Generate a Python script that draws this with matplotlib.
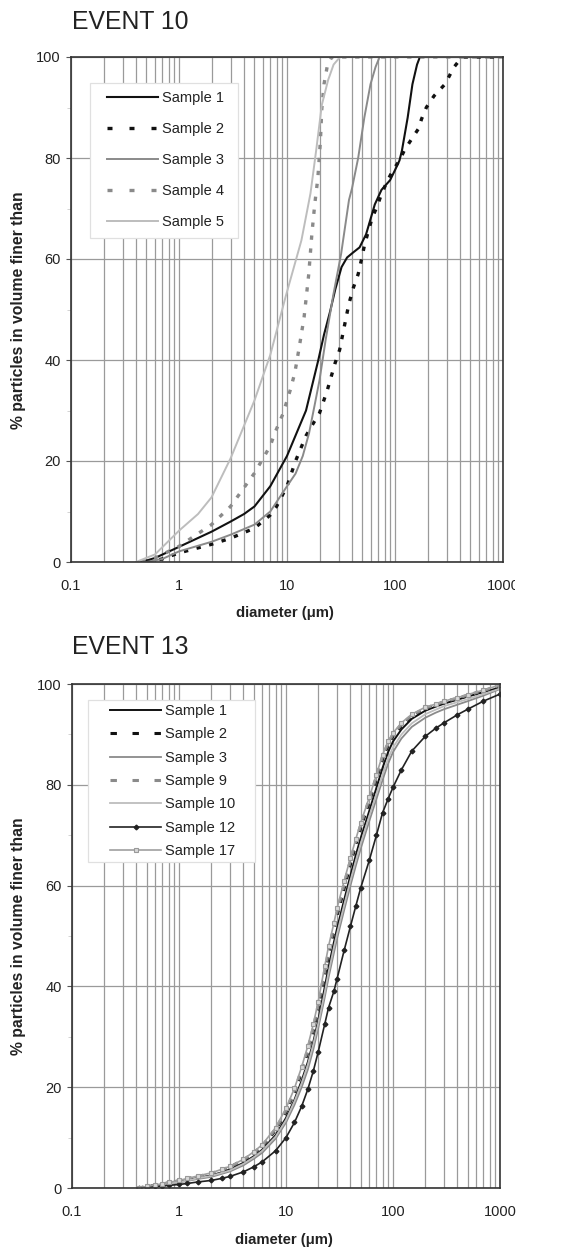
import matplotlib
matplotlib.use("Agg")
import matplotlib.pyplot as plt
from matplotlib.ticker import FixedLocator, NullFormatter, LogLocator
from matplotlib.patches import Rectangle
from matplotlib.lines import Line2D
from matplotlib.transforms import Bbox, TransformedBbox

plt.rcParams['font.family'] = ['Liberation Sans', 'DejaVu Sans']

# ---------------- EVENT 10 data (diameter um, % finer) ----------------
e10_s1_d = [0.45, 0.6, 1, 2, 3, 4, 5, 7, 10, 15, 19.5, 22, 25, 28, 32, 36, 41, 47, 54, 65, 75, 90, 100, 110, 116, 131, 145, 160, 170, 1000]
e10_s1_p = [0, 0.8, 3, 6, 8, 9.5, 11, 15, 21, 30, 40, 45, 49.5, 54, 58.4, 60.3, 61.3, 62.3, 64.9, 70.8, 73.7, 75.6, 77.6, 79.5, 81.5, 88, 94.6, 98.5, 100, 100]

e10_s2_d = [0.5, 0.7, 1, 2, 3, 5, 7, 8, 10, 12, 15, 17, 20, 23.6, 27.8, 30.7, 33.9, 37.4, 41.3, 45.6, 48.7, 52, 55.6, 61.5, 67.7, 74.8, 85, 96, 110, 122, 140, 165, 176, 195, 230, 290, 352, 400, 430, 1000]
e10_s2_p = [0, 0.6, 1.8, 3.5, 4.7, 6.7, 9.3, 11, 15, 20, 25, 27, 29.5, 34, 39.3, 42, 46.6, 51.1, 54.4, 57, 59.7, 62.6, 64.9, 68.2, 70.2, 72.8, 75.5, 77.6, 79.5, 81.5, 83.5, 85.8, 87.7, 90, 92.3, 94.6, 98, 99.5, 100, 100]

e10_s3_d = [0.5, 0.7, 1, 2, 3, 5, 7, 10, 12, 14, 16, 18, 20, 22.8, 26.9, 31.7, 37.5, 40, 45.6, 52, 59.3, 66, 72, 1000]
e10_s3_p = [0, 0.6, 2.1, 4, 5.4, 7.4, 10, 15, 17.5, 21, 25.5, 31, 36, 44, 53, 61, 71.7, 74, 80, 88, 94.6, 98, 100, 100]

e10_s4_d = [0.45, 0.6, 1, 2, 3, 5, 7, 7.7, 9.2, 10.7, 11.8, 13, 14.4, 15.9, 17, 18.1, 19.3, 20.4, 21, 22, 23.6, 26, 1000]
e10_s4_p = [0, 0.8, 3.1, 7.4, 11, 17.6, 23, 25.5, 29.4, 34, 37.4, 42.6, 48.5, 57, 65, 71, 76, 83.5, 89.7, 94.6, 98.2, 100, 100]

e10_s5_d = [0.4, 0.6, 1, 1.5, 2, 3, 5, 7, 9.7, 13.6, 16.5, 18.7, 21, 24, 27, 31, 1000]
e10_s5_p = [0, 1.5, 6.2, 9.5, 12.8, 20.5, 32, 41, 52.5, 63.7, 73, 81.8, 90.5, 95.4, 98.5, 100, 100]

e10_labels = ["Sample 1", "Sample 2", "Sample 3", "Sample 4", "Sample 5"]

# ---------------- EVENT 13 data ----------------
e13_d = [0.42, 0.5, 0.6, 0.7, 0.8, 1, 1.2, 1.5, 2, 2.5, 3, 4, 5, 6, 8, 10, 12, 14, 16, 18, 20, 23, 25, 28, 30,
         35, 40, 45, 50, 60, 70, 80, 90, 100, 120, 150, 200, 250, 300, 400, 500, 700, 1000]
e13_s1 = [0, 0.23, 0.45, 0.68, 0.9, 1.25, 1.6, 2.0, 2.5, 3.1, 3.7, 5.0, 6.3, 7.6, 10.5, 13.9, 17.5, 21.3, 25, 29, 33.2,
          39.8, 43.8, 48.7, 51.5, 57.2, 62, 66.1, 69.5, 74.8, 79.4, 83.4, 86.5, 88.6, 91, 93.1, 94.7, 95.5, 96.1, 96.9, 97.5, 98.4, 99.3]
e13_s2 = [0, 0.27, 0.5, 0.75, 1.0, 1.4, 1.8, 2.25, 2.8, 3.5, 4.1, 5.5, 6.9, 8.2, 11.5, 15.1, 19, 23, 27, 31.2, 35.6,
          42.2, 46.3, 51, 54, 59.5, 64.2, 68.2, 71.5, 76.6, 81.2, 85.2, 87.9, 89.7, 91.7, 93.6, 95.1, 95.8, 96.4, 97.1, 97.7, 98.6, 99.6]
e13_s3 = [0, 0.2, 0.4, 0.6, 0.8, 1.1, 1.4, 1.8, 2.2, 2.8, 3.3, 4.5, 5.8, 7.0, 9.8, 13, 16.5, 20, 23.5, 27.5, 31.7,
          37.8, 41.8, 46.6, 49.5, 55.2, 60, 64, 67.4, 72.8, 77.2, 81, 84.2, 86.5, 89.2, 91.5, 93.3, 94.3, 95, 95.9, 96.6, 97.7, 99]
e13_s9 = [0, 0.28, 0.55, 0.8, 1.05, 1.45, 1.85, 2.3, 2.9, 3.6, 4.2, 5.6, 7.0, 8.4, 11.7, 15.4, 19.4, 23.5, 27.5, 31.8, 36.3,
          43, 47, 51.8, 54.8, 60.3, 65, 68.9, 72.1, 77.2, 81.7, 85.7, 88.3, 90, 92, 93.8, 95.2, 95.9, 96.5, 97.2, 97.8, 98.7, 99.7]
e13_s10 = [0, 0.22, 0.45, 0.65, 0.85, 1.2, 1.5, 1.95, 2.4, 3.0, 3.5, 4.8, 6.1, 7.4, 10.2, 13.5, 17.2, 20.8, 24.5, 28.5, 32.6,
           38.8, 42.8, 47.7, 50.5, 56.2, 61, 65, 68.4, 73.8, 78.2, 82, 85.2, 87.4, 90, 92.2, 94, 94.9, 95.6, 96.4, 97, 98, 99.1]
e13_s12 = [0, 0.15, 0.3, 0.42, 0.52, 0.7, 0.9, 1.2, 1.5, 1.9, 2.3, 3.2, 4.2, 5.2, 7.4, 10, 13, 16.2, 19.6, 23.2, 27,
           32.5, 35.8, 39, 41.5, 47.2, 51.9, 56, 59.6, 65, 70, 74.5, 77.2, 79.5, 83, 86.7, 89.6, 91.2, 92.3, 93.9, 95, 96.6, 98]
e13_s17 = [0, 0.3, 0.6, 0.85, 1.1, 1.5, 1.9, 2.4, 3.0, 3.7, 4.3, 5.7, 7.2, 8.6, 12, 15.8, 19.8, 24, 28.2, 32.5, 37,
           44, 48, 52.5, 55.5, 61, 65.5, 69.3, 72.5, 77.5, 82, 86, 88.6, 90.3, 92.3, 94, 95.4, 96, 96.6, 97.3, 97.9, 98.8, 99.8]

e13_labels = ["Sample 1", "Sample 2", "Sample 3", "Sample 9", "Sample 10", "Sample 12", "Sample 17"]

x_ticks = [0.1, 1, 10, 100, 1000]
x_ticklabels = ["0.1", "1", "10", "100", "1000"]
y_ticks = [0, 20, 40, 60, 80, 100]

W, H = 567, 1249
fig = plt.figure(figsize=(W / 100, H / 100), dpi=100)

GRID = '#9a9a9a'
TXT = '#222222'


def style_axes(ax):
    ax.set_xscale('log')
    ax.set_xlim(0.1, 1000)
    ax.set_ylim(0, 100)
    ax.set_xticks(x_ticks)
    ax.set_xticklabels(x_ticklabels)
    ax.xaxis.set_minor_locator(LogLocator(base=10, subs=range(2, 10), numticks=20))
    ax.xaxis.set_minor_formatter(NullFormatter())
    ax.set_yticks(y_ticks)
    ax.yaxis.set_minor_locator(FixedLocator([10, 30, 50, 70, 90]))
    ax.grid(True, which='major', axis='both', color=GRID, lw=0.9)
    ax.grid(True, which='minor', axis='x', color=GRID, lw=0.9)
    ax.set_axisbelow(True)
    ax.tick_params(axis='y', which='major', direction='out', length=3.5, width=0.8,
                   color='#555555', labelsize=10.5, pad=4, labelcolor=TXT)
    ax.tick_params(axis='y', which='minor', direction='out', length=3, width=0.6, color='#cccccc')
    ax.tick_params(axis='x', which='major', direction='out', length=0, labelsize=10.5,
                   pad=12, labelcolor=TXT)
    ax.tick_params(axis='x', which='minor', length=0)
    for sp in ax.spines.values():
        sp.set_color('#333333')
        sp.set_linewidth(1.2)


def legend_frame(ax, x0, y0, x1, y1):
    r = Rectangle((x0 / W, 1 - y1 / H), (x1 - x0) / W, (y1 - y0) / H, transform=fig.transFigure,
                  facecolor='white', edgecolor='#e0e0e0', lw=0.9, zorder=3, clip_on=False)
    ax.add_patch(r)


# ---- EVENT 10 ----
ax1 = fig.add_axes([71 / W, 1 - 562 / H, (503 - 71) / W, (562 - 57) / H])
style_axes(ax1)
dot = (0, (1.3, 2.6))
l1, = ax1.plot(e10_s1_d, e10_s1_p, color='#111111', lw=1.5, label=e10_labels[0])
l2, = ax1.plot(e10_s2_d, e10_s2_p, color='#111111', lw=2.4, ls=dot, label=e10_labels[1])
l3, = ax1.plot(e10_s3_d, e10_s3_p, color='#8a8a8a', lw=1.4, label=e10_labels[2])
l4, = ax1.plot(e10_s4_d, e10_s4_p, color='#8a8a8a', lw=2.4, ls=dot, label=e10_labels[3])
l5, = ax1.plot(e10_s5_d, e10_s5_p, color='#bdbdbd', lw=1.4, label=e10_labels[4])
leg_dash10 = (0, (1.5, 5.1))
h2 = Line2D([], [], color='#111111', lw=2.4, ls=leg_dash10)
h4 = Line2D([], [], color='#8a8a8a', lw=2.4, ls=leg_dash10)
legend_frame(ax1, 90, 83, 238, 238)
leg1 = ax1.legend([l1, h2, l3, h4, l5], e10_labels,
                  loc='upper left', bbox_to_anchor=(107 / W, 1 - 91 / H), bbox_transform=fig.transFigure,
                  borderaxespad=0, borderpad=0, fontsize=10.5, handlelength=3.5, handletextpad=0.3,
                  labelspacing=1.17, frameon=False)
leg1.set_zorder(5)
for t in leg1.get_texts():
    t.set_color(TXT)

fig.canvas.draw()
ticks1 = ax1.xaxis.get_major_ticks()
ticks1[-1].label1.set_clip_box(TransformedBbox(Bbox([[0, 0], [515 / W, 1]]), fig.transFigure))
ticks1[-1].label1.set_clip_on(True)

fig.text(72 / W, 1 - 22 / H, "EVENT 10", fontsize=17.8, ha='left', va='center', color=TXT)
fig.text(285 / W, 1 - 613 / H, "diameter (μm)", fontsize=10.7, fontweight='bold',
         ha='center', va='center', color=TXT)
fig.text(19 / W, 1 - 310 / H, "% particles in volume finer than", fontsize=11.3,
         fontweight='bold', rotation=90, ha='center', va='center', color=TXT)

# ---- EVENT 13 ----
ax2 = fig.add_axes([72 / W, 1 - 1188 / H, (500 - 72) / W, (1188 - 684) / H])
style_axes(ax2)
m1, = ax2.plot(e13_d, e13_s1, color='#111111', lw=1.4, label=e13_labels[0])
m2, = ax2.plot(e13_d, e13_s2, color='#111111', lw=2.2, ls=(0, (1.6, 2.4)), label=e13_labels[1])
m3, = ax2.plot(e13_d, e13_s3, color='#8a8a8a', lw=1.3, label=e13_labels[2])
m9, = ax2.plot(e13_d, e13_s9, color='#8a8a8a', lw=2.2, ls=(0, (1.6, 2.4)), label=e13_labels[3])
m10, = ax2.plot(e13_d, e13_s10, color='#bdbdbd', lw=1.3, label=e13_labels[4])
m12, = ax2.plot(e13_d, e13_s12, color='#222222', lw=1.2, marker='D', ms=2.4, label=e13_labels[5])
m17, = ax2.plot(e13_d, e13_s17, color='#a0a0a0', lw=1.2, marker='s', ms=3.4, mfc='#d8d8d8',
                mec='#999999', mew=0.8, label=e13_labels[6])
leg_dash13 = (0, (2.1, 5.1))
k2 = Line2D([], [], color='#111111', lw=2.2, ls=leg_dash13)
k9 = Line2D([], [], color='#8a8a8a', lw=2.2, ls=leg_dash13)
k12 = Line2D([], [], color='#222222', lw=1.2, marker='D', ms=3.0, markevery=[1])
k17 = Line2D([], [], color='#a0a0a0', lw=1.2, marker='s', ms=4.2, mfc='#d8d8d8', mec='#999999',
             mew=0.8, markevery=[1])
legend_frame(ax2, 88, 700, 255, 862)
leg2 = ax2.legend([m1, k2, m3, k9, m10, m12, m17], e13_labels,
                  loc='upper left', bbox_to_anchor=(110 / W, 1 - 704 / H), bbox_transform=fig.transFigure,
                  borderaxespad=0, borderpad=0, fontsize=10.5, handlelength=3.5, handletextpad=0.3,
                  labelspacing=0.64, frameon=False)
leg2.set_zorder(5)
for t in leg2.get_texts():
    t.set_color(TXT)

fig.text(72 / W, 1 - 647 / H, "EVENT 13", fontsize=17.8, ha='left', va='center', color=TXT)
fig.text(284 / W, 1 - 1240 / H, "diameter (μm)", fontsize=10.7, fontweight='bold',
         ha='center', va='center', color=TXT)
fig.text(19 / W, 1 - 936 / H, "% particles in volume finer than", fontsize=11.3,
         fontweight='bold', rotation=90, ha='center', va='center', color=TXT)

fig.savefig("out.png", dpi=100)
